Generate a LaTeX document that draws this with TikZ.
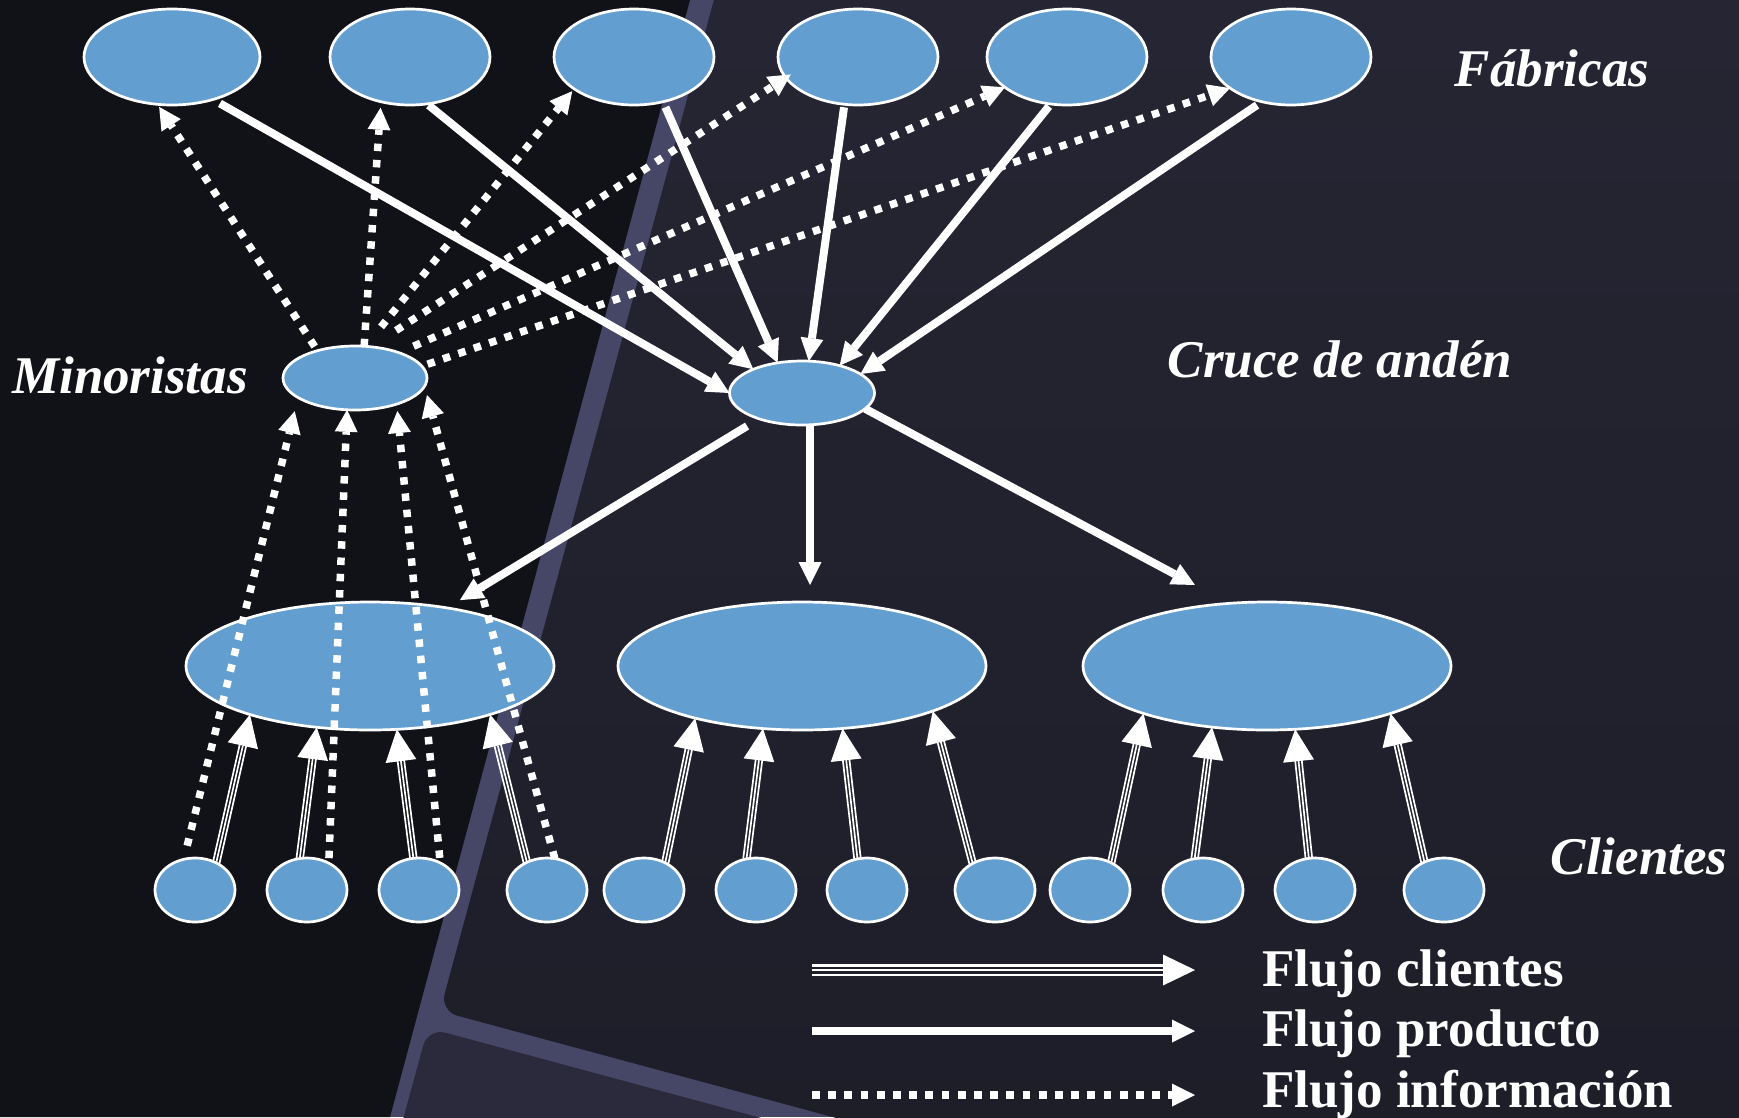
\documentclass[tikz,border=0pt]{standalone}
\usepackage{fontspec}
\setmainfont{Liberation Serif}
\usetikzlibrary{arrows.meta,shapes.geometric,calc}
\definecolor{nodeblue}{RGB}{99,158,208}
\definecolor{bgdark}{RGB}{17,17,24}
\definecolor{bgband}{RGB}{70,70,102}
\definecolor{bgpanel}{RGB}{38,38,52}
\definecolor{bgpanelb}{RGB}{29,29,40}
\definecolor{bgpanelc}{RGB}{42,42,60}
\tikzset{
  blob/.style={ellipse, fill=nodeblue, draw=white, line width=2.7pt, inner sep=0pt, outer sep=0pt},
  fab/.style={blob, minimum width=160pt, minimum height=96pt},
  hub/.style={blob, minimum width=145pt, minimum height=64pt},
  zone/.style={blob, minimum width=368pt, minimum height=128pt},
  cli/.style={blob, minimum width=80pt, minimum height=64pt},
  prod/.style={draw=white, line width=8pt, -{Triangle[length=23pt,width=23pt,line width=0pt]}},
  info/.style={draw=white, line width=7.5pt, dash pattern=on 7.5pt off 8.8pt, -{Triangle[length=22pt,width=23pt,line width=0pt]}},
  lbl/.style={text=white, inner sep=0pt, anchor=base, font=\fontsize{53pt}{60pt}\selectfont\bfseries\itshape},
  leg/.style={text=white, inner sep=0pt, anchor=base west, font=\fontsize{53pt}{60pt}\selectfont\bfseries},
}
\newcommand{\triplearrow}[4]{%
  \draw[white, line width=#2, shorten >=30pt] ($(#3)!#1!90:(#4)$) -- ($(#4)!#1!-90:(#3)$);
  \draw[white, line width=#2, shorten >=30pt] ($(#3)!#1!-90:(#4)$) -- ($(#4)!#1!90:(#3)$);
  \draw[white, line width=#2, -{Triangle[length=32pt,width=31pt,line width=0pt]}] (#3) -- (#4);
}
\begin{document}
\begin{tikzpicture}[x=1pt,y=-1pt]
\useasboundingbox (0,0) rectangle (1739,1117);
% background
\fill[bgband] (0,0) rectangle (1739,1117);
\fill[bgdark] (0,0) -- (690,0) -- (390,1117) -- (0,1117) -- cycle;
\shade[top color=bgpanel, bottom color=bgpanelb, rounded corners=18pt]
  (440,1011) -- (741,-100) -- (1850,-100) -- (1850,1250) -- (1140,1200) -- cycle;
\fill[bgpanelc, rounded corners=18pt]
  (428,1028) -- (1065,1200) -- (1065,1260) -- (370,1260) -- (381,1200) -- cycle;
% factories
\node[fab, minimum width=176pt] (F1) at (172,57) {};
\node[fab] (F2) at (410,57) {};
\node[fab] (F3) at (634,57) {};
\node[fab] (F4) at (858,57) {};
\node[fab] (F5) at (1067,57) {};
\node[fab] (F6) at (1291,57) {};
% retailer and cross-dock
\node[hub, minimum width=144pt] (M) at (355,378) {};
\node[hub] (X) at (802,393) {};
% zones
\node[zone] (L1) at (370,666) {};
\node[zone] (L2) at (802,666) {};
\node[zone] (L3) at (1267,666) {};
% clients
\foreach \i/\x in {1/195,2/307,3/419,4/547,5/644,6/756,7/867,8/995,9/1090,10/1203,11/1315,12/1444}
  \node[cli] (C\i) at (\x,890) {};
% labels
\node[lbl] (tfab) at (1552,86) {Fábricas};
\node[lbl] (tmin) at (130,393) {Minoristas};
\node[lbl] (tcru) at (1340,377) {Cruce de andén};
\node[lbl] (tcli) at (1639,874) {Clientes};
% product flow
\draw[prod, shorten <=8pt] (F1.-46) -- (X.west);
\draw[prod, shorten <=2pt] (F2.-70) -- (X.154);
\draw[prod, shorten <=6pt] (F3.-57) -- (X.129);
\draw[prod, shorten <=3pt] (F4.-106) -- (X.78);
\draw[prod, shorten <=3pt] (F5.-109) -- (X.36);
\draw[prod, shorten <=6pt] (F6.-123) -- (X.18);
\draw[prod, shorten <=14pt, shorten >=15pt] (X.-149) -- (L1.37);
\draw[prod, shorten >=17pt] ([xshift=8pt]X.south) -- ([xshift=8pt]L2.north);
\draw[prod, shorten >=39pt] (X.-14) -- (L3.121);
% information flow: retailer to factories
\draw[info, shorten <=5pt, shorten >=3pt] (M.144) -- (F1.-107);
\draw[info, shorten >=6pt] (M.74) -- (F2.-123);
\draw[info, shorten <=25pt, shorten >=3pt] (M.72) -- (F3.-152);
\draw[info, shorten <=30pt, shorten >=-6pt] (M.63) -- (F4.-164);
\draw[info, shorten <=16pt] (M.30) -- (F5.-154);
\draw[info, shorten <=6pt] (M.10) -- (F6.-153);
% information flow: clients to retailer
\draw[info, shorten <=14pt, shorten >=14pt] (C1.110) -- (M.-161);
\draw[info, shorten <=5pt] (C2.51) -- (M.-104);
\draw[info, shorten <=5pt, shorten >=7pt] (C3.52) -- (M.-32);
\draw[info] (C4.76) -- ([yshift=-17pt]M.east);
% customer flow
\triplearrow{3.3pt}{1.7pt}{C1.52}{L1.-158}
\triplearrow{3.3pt}{1.7pt}{C2.103}{L1.-131}
\triplearrow{3.3pt}{1.7pt}{C3.100}{L1.-67}
\triplearrow{3.3pt}{1.7pt}{C4.126}{L1.-22}
\triplearrow{3.3pt}{1.7pt}{C5.52}{L2.-154}
\triplearrow{3.3pt}{1.7pt}{C6.107}{L2.-122}
\triplearrow{3.3pt}{1.7pt}{C7.107}{L2.-57}
\triplearrow{3.3pt}{1.7pt}{C8.130}{L2.-19}
\triplearrow{3.3pt}{1.7pt}{C9.52}{L3.-159}
\triplearrow{3.3pt}{1.7pt}{C10.105}{L3.-132}
\triplearrow{3.3pt}{1.7pt}{C11.101}{L3.-66}
\triplearrow{3.3pt}{1.7pt}{C12.125}{L3.-21}
% legend
\coordinate (la1) at (812,970); \coordinate (lb1) at (1195,970);
\coordinate (la2) at (812,1031); \coordinate (lb2) at (1195,1031);
\coordinate (la3) at (812,1095); \coordinate (lb3) at (1195,1095);
\triplearrow{4.6pt}{2.2pt}{la1}{lb1}
\draw[prod, line width=8pt, -{Triangle[length=23pt,width=23pt,line width=0pt]}] (la2) -- (lb2);
\draw[info, line width=8pt, dash pattern=on 7.7pt off 8.5pt, -{Triangle[length=23pt,width=23pt,line width=0pt]}] (la3) -- (lb3);
\node[leg] (g1) at (1262,986) {Flujo clientes};
\node[leg] (g2) at (1262,1046) {Flujo producto};
\node[leg] (g3) at (1262,1107) {Flujo información};
\end{tikzpicture}
\end{document}
